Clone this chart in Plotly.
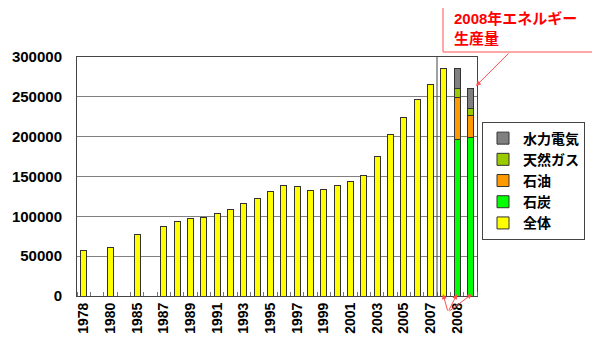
import plotly.graph_objects as go

# ---- data ----
year_labels = ["1978", "", "1980", "", "1985", "", "1987", "1988", "1989", "1990",
               "1991", "1992", "1993", "1994", "1995", "1996", "1997", "1998", "1999",
               "2000", "2001", "2002", "2003", "2004", "2005", "2006", "2007", "2008"]
total_values = [57144, None, 60275, None, 76682, None, 86632, 92997, 96934, 98703,
                103783, 109170, 115993, 122737, 131176, 138948, 137798, 132214, 133831,
                138553, 143199, 151797, 174990, 203227, 224682, 246270, 265583, 285000]
# two stacked 2008 bars (positions after the 2008 total bar)
coal_2008 = [196000, 199500]
oil_2008 = [52700, 26800]
gas_2008 = [11500, 9300]
hydro_2008 = [25700, 24600]
tick_labels = ["1978", "1980", "1985", "1987", "1989", "1991", "1993", "1995", "1997",
               "1999", "2001", "2003", "2005", "2007", "2008"]

n_total = len(year_labels)
x_total = list(range(n_total))
x_stack = [n_total, n_total + 1]
n_cat = n_total + 2
tick_vals = list(range(0, n_cat, 2))

FONT = "Liberation Sans, Arial, Noto Sans CJK JP"
BW = 0.45
LINE = dict(color="#333333", width=1)

fig = go.Figure()
fig.add_trace(go.Bar(x=x_total, y=total_values, name="全体", width=BW,
                     marker=dict(color="#FFFF00", line=LINE)))
fig.add_trace(go.Bar(x=x_stack, y=coal_2008, name="石炭", width=BW,
                     marker=dict(color="#00FF00", line=LINE)))
fig.add_trace(go.Bar(x=x_stack, y=oil_2008, name="石油", width=BW,
                     marker=dict(color="#FF9900", line=LINE)))
fig.add_trace(go.Bar(x=x_stack, y=gas_2008, name="天然ガス", width=BW,
                     marker=dict(color="#99CC00", line=LINE)))
fig.add_trace(go.Bar(x=x_stack, y=hydro_2008, name="水力電気", width=BW,
                     marker=dict(color="#808080", line=LINE)))

fig.update_layout(
    width=600, height=360,
    margin=dict(l=69, r=131, t=49, b=72, autoexpand=False),
    paper_bgcolor="white", plot_bgcolor="white",
    barmode="stack",
    font=dict(family=FONT, size=14, color="black", weight="bold"),
    legend=dict(x=1.0125, y=0.73, xanchor="left", yanchor="top",
                traceorder="reversed", bordercolor="#444444", borderwidth=1,
                font=dict(size=14, weight="bold"), itemwidth=30,
                tracegroupgap=0, bgcolor="white"),
    showlegend=True,
)
fig.update_xaxes(
    range=[-0.5, n_cat - 0.5], automargin=False,
    tickmode="array", tickvals=tick_vals, ticktext=tick_labels,
    tickangle=-90, ticks="", showgrid=False, zeroline=False,
    showline=True, linecolor="#444444", linewidth=1, mirror=True,
    tickfont=dict(size=14, weight="bold"),
    minor=dict(tick0=-0.5, dtick=1, ticks="inside", ticklen=4,
               tickcolor="#777777", showgrid=False),
)
fig.update_yaxes(
    range=[0, 300000], dtick=50000, tickformat="d", automargin=False,
    showgrid=True, gridcolor="#808080", gridwidth=1, zeroline=False,
    showline=True, linecolor="#444444", linewidth=1, mirror=True,
    ticks="", ticklabelstandoff=11,
    tickfont=dict(size=15, weight="bold"),
)

# separator line before the 2008 group
fig.add_shape(type="line", xref="x", yref="y", x0=n_total - 1.5, x1=n_total - 1.5,
              y0=0, y1=300000, line=dict(color="#444444", width=1))

ARROW = "#FF5050"
# title box
fig.add_shape(type="rect", xref="paper", yref="paper",
              x0=0.915, x1=1.29, y0=1.0209, y1=1.2218,
              line=dict(color=ARROW, width=1), fillcolor="white", layer="above")
fig.add_annotation(xref="paper", yref="paper", x=0.9375, y=1.205,
                   xanchor="left", yanchor="top", showarrow=False,
                   text="2008年エネルギー<br>生産量", align="left",
                   font=dict(size=15, color="#FF0000", weight="bold"))
# arrow from title box to the production bar
fig.add_annotation(xref="paper", yref="paper", x=0.9975, y=0.879,
                   ax=34, ay=-34, axref="pixel", ayref="pixel", text="",
                   showarrow=True, arrowhead=2, arrowsize=1, arrowwidth=1,
                   arrowcolor=ARROW)
# arrows from 2008 label to the three 2008 bars
for xp, axp in [(0.915, 5), (0.95, -9), (0.9875, -24)]:
    fig.add_annotation(xref="paper", yref="paper", x=xp, y=0.008,
                       ax=axp, ay=18, axref="pixel", ayref="pixel", text="",
                       showarrow=True, arrowhead=2, arrowsize=1, arrowwidth=1,
                       arrowcolor=ARROW)

fig.write_html("out.html")
